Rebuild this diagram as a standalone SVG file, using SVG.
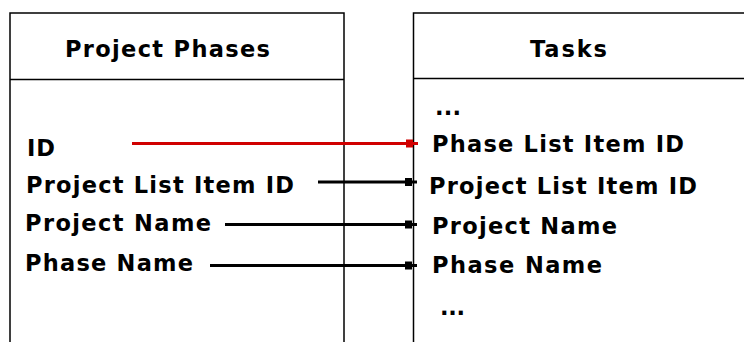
<svg xmlns="http://www.w3.org/2000/svg" width="744" height="342" viewBox="0 0 744 342">
<defs>
<style>
.box{fill:#fff;stroke:#000;stroke-width:1.5}
.t{font-family:"DejaVu Sans",Verdana,sans-serif;font-weight:bold;font-size:22.5px;fill:#000}
.c{fill:none;stroke-width:3}
.blk{stroke:#000}
.red{stroke:#d00000}
</style>
<marker id="ab" viewBox="0 0 12 9" refX="12" refY="4.5" markerUnits="userSpaceOnUse" markerWidth="12" markerHeight="9" orient="auto">
<path d="M0,0.5 L7,0.5 L7,3.8 L12,3.8 L12,5.2 L7,5.2 L7,8.5 L0,8.5 Z" fill="#000"/>
</marker>
<marker id="ar" viewBox="0 0 12 9" refX="12" refY="4.5" markerUnits="userSpaceOnUse" markerWidth="12" markerHeight="9" orient="auto">
<path d="M0,0.5 L7,0.5 L7,3.8 L12,3.8 L12,5.2 L7,5.2 L7,8.5 L0,8.5 Z" fill="#d00000"/>
</marker>
</defs>
<g id="project-phases">
<rect class="box" x="10" y="13" width="334" height="340"/>
<line x1="10" y1="79.5" x2="344" y2="79.5" stroke="#000" stroke-width="1.5"/>
<text class="t" x="65" y="57" textLength="205">Project Phases</text>
<text class="t" x="27" y="156" textLength="28">ID</text>
<text class="t" x="26" y="193" textLength="268">Project List Item ID</text>
<text class="t" x="25" y="231" textLength="186">Project Name</text>
<text class="t" x="25" y="271" textLength="168">Phase Name</text>
</g>
<g id="tasks">
<rect class="box" x="413.5" y="13" width="360" height="340"/>
<line x1="413.5" y1="78.5" x2="744" y2="78.5" stroke="#000" stroke-width="1.5"/>
<text class="t" x="530" y="57" textLength="77">Tasks</text>
<text class="t" x="435" y="115" textLength="26">...</text>
<text class="t" x="432" y="152" textLength="252">Phase List Item ID</text>
<text class="t" x="429" y="194" textLength="268">Project List Item ID</text>
<text class="t" x="432" y="234" textLength="185">Project Name</text>
<text class="t" x="432" y="273" textLength="170">Phase Name</text>
<text class="t" x="440" y="315" textLength="25">...</text>
</g>
<g id="connectors">
<line class="c red" x1="132" y1="143.5" x2="418" y2="143.5" marker-end="url(#ar)"/>
<line class="c blk" x1="318" y1="182" x2="417" y2="182" marker-end="url(#ab)"/>
<line class="c blk" x1="225" y1="224.5" x2="417" y2="224.5" marker-end="url(#ab)"/>
<line class="c blk" x1="210" y1="265.5" x2="417" y2="265.5" marker-end="url(#ab)"/>
</g>
</svg>
